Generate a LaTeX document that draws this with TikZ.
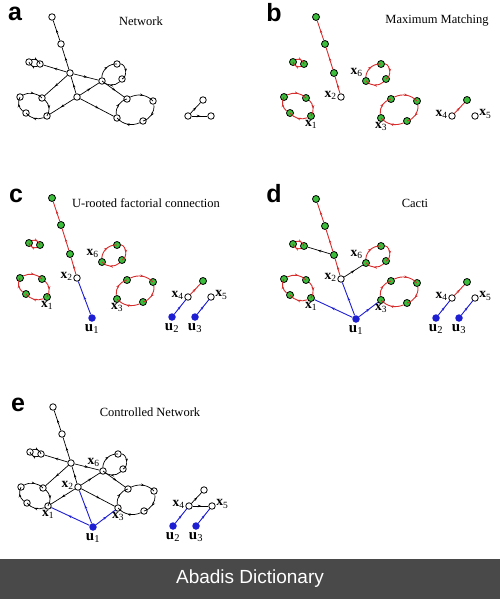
\documentclass[tikz,border=0pt]{standalone}
\usepackage{fontspec}
\setmainfont{Liberation Serif}
\newfontfamily\panelfont{Liberation Sans}
\usetikzlibrary{arrows.meta,decorations.markings,positioning}

\definecolor{nodegreen}{RGB}{60,190,60}
\definecolor{matchred}{RGB}{215,45,45}
\definecolor{ctrlblue}{RGB}{30,30,210}
\definecolor{barcol}{RGB}{74,73,74}

\newcommand{\xsub}[2]{\textbf{#1}\textsubscript{#2}}

% nodes shared by all panels
\newcommand{\placenodes}[1]{%
  \foreach \nm/\px/\py in {top/52/17, c1/61/44, hub/70/73, p1/29/62, p2/40/64,
      s1/117/64, s2/122/79, l1/20/97, l2/42/98, l3/26/113,
      r1/127/99, r2/153/101, r3/143/121, g/203/100,
      x1/47/116, x3/117/118, x6/102/81}
    \node[#1] (\nm) at (\px,\py) {};
  \foreach \nm/\px/\py in {x2/77/97, x4/188/116, x5/211/116}
    \node[onode] (\nm) at (\px,\py) {};
}
\newcommand{\placeunodes}{%
  \node[unode] (u1) at (92,137) {};
  \node[unode] (u2) at (172,136) {};
  \node[unode] (u3) at (195,136) {};
}
% chain and cycles of the matching
\newcommand{\matchedges}[1]{%
  \draw[#1] (x2) -- (hub);
  \draw[#1] (hub) -- (c1);
  \draw[#1] (c1) -- (top);
  \draw[#1] (p1) to[bend left=50] (p2);
  \draw[#1] (p2) to[bend left=50] (p1);
  \draw[#1] (x6) to[bend left=45] (s1);
  \draw[#1] (s1) to[bend left=75] (s2);
  \draw[#1] (s2) to[bend left=45] (x6);
  \draw[#1] (l1) to[bend left=35] (l2);
  \draw[#1] (l2) to[bend left=40] (x1);
  \draw[#1] (x1) to[bend left=35] (l3);
  \draw[#1] (l3) to[bend left=40] (l1);
  \draw[#1] (r1) to[bend left=35] (r2);
  \draw[#1] (r2) to[bend left=40] (r3);
  \draw[#1] (r3) to[bend left=35] (x3);
  \draw[#1] (x3) to[bend left=40] (r1);
  \draw[#1] (x4) -- (g);
}
\newcommand{\otheredges}{%
  \draw[bedge] (hub) -- (p2);
  \draw[bedge] (hub) -- (l2);
  \draw[bedge] (hub) -- (x6);
  \draw[bedge] (x2) -- (x6);
  \draw[bedge] (x6) -- (r1);
  \draw[bedge] (x2) -- (x1);
  \draw[bedge] (x2) -- (x3);
  \draw[bedge] (x4) -- (x5);
}
\newcommand{\xlabels}{%
  \node[xlbl, anchor=north] (x1l) at (x1.south) {\xsub{x}{1}};
  \node[xlbl, anchor=east, yshift=2pt] (x2l) at (x2.west) {\xsub{x}{2}};
  \node[xlbl, anchor=north] (x3l) at (x3.south) {\xsub{x}{3}};
  \node[xlbl, anchor=east, yshift=2pt] (x4l) at (x4.west) {\xsub{x}{4}};
  \node[xlbl, anchor=west, yshift=2pt] (x5l) at (x5.east) {\xsub{x}{5}};
  \node[xlbl, anchor=south east, yshift=1pt] (x6l) at (x6.north west) {\xsub{x}{6}};
}
\newcommand{\ulabels}{%
  \node[ulbl, anchor=north, yshift=-2pt] (u1l) at (u1.south) {\xsub{u}{1}};
  \node[ulbl, anchor=north, yshift=-2pt] (u2l) at (u2.south) {\xsub{u}{2}};
  \node[ulbl, anchor=north, yshift=-2pt] (u3l) at (u3.south) {\xsub{u}{3}};
}

\begin{document}
\begin{tikzpicture}[x=1pt, y=-1pt,
  midarrow/.style={postaction={decorate},
    decoration={markings, mark=at position .55 with {\arrow{Stealth[length=3.5pt,width=2.6pt]}}}},
  onode/.style={circle, draw, fill=white, inner sep=0pt, minimum size=6.5pt, line width=0.8pt},
  gnode/.style={onode, fill=nodegreen, minimum size=7pt},
  unode/.style={circle, fill=ctrlblue, inner sep=0pt, minimum size=7.5pt},
  bedge/.style={draw, line width=0.7pt, midarrow},
  redge/.style={draw=matchred, line width=0.9pt, midarrow},
  uedge/.style={draw=ctrlblue, line width=0.9pt, midarrow},
  xlbl/.style={inner sep=0.5pt, font=\fontsize{13.5}{14}\selectfont},
  ulbl/.style={inner sep=0.5pt, font=\fontsize{15}{15}\selectfont},
  title/.style={font=\fontsize{12.5}{13}\selectfont},
  letter/.style={font=\panelfont\bfseries\fontsize{25}{25}\selectfont}]
\useasboundingbox (0,0) rectangle (500,599);

% panel letters and titles
\node[letter] (la) at (15,14) {a};
\node[letter] (lb) at (274,13) {b};
\node[letter] (lc) at (16,196) {c};
\node[letter] (ld) at (274,194) {d};
\node[letter] (le) at (18,405) {e};
\node[title] (ta) at (141,21) {Network};
\node[title] (tb) at (437,21) {Maximum Matching};
\node[title] (tc) at (146,203) {U-rooted factorial connection};
\node[title] (td) at (415,203) {Cacti};
\node[title] (te) at (150,412) {Controlled Network};

% a
\begin{scope}[name prefix=a-]
  \placenodes{onode}
  \matchedges{bedge}
  \otheredges
\end{scope}

% b
\begin{scope}[shift={(264,0)}, name prefix=b-]
  \placenodes{gnode}
  \matchedges{redge}
  \xlabels
\end{scope}

% c
\begin{scope}[shift={(0,181)}, name prefix=c-]
  \placenodes{gnode}
  \placeunodes
  \matchedges{redge}
  \draw[uedge] (u1) -- (x2);
  \draw[uedge] (u2) -- (x4);
  \draw[uedge] (u3) -- (x5);
  \xlabels
  \ulabels
\end{scope}

% d
\begin{scope}[shift={(264,182)}, name prefix=d-]
  \placenodes{gnode}
  \placeunodes
  \matchedges{redge}
  \draw[bedge] (hub) -- (p2);
  \draw[bedge] (x2) -- (x6);
  \draw[uedge] (u1) -- (x1);
  \draw[uedge] (u1) -- (x2);
  \draw[uedge] (u1) -- (x3);
  \draw[uedge] (u2) -- (x4);
  \draw[uedge] (u3) -- (x5);
  \xlabels
  \ulabels
\end{scope}

% e
\begin{scope}[shift={(1,390)}, name prefix=e-]
  \placenodes{onode}
  \placeunodes
  \matchedges{bedge}
  \otheredges
  \draw[uedge] (u1) -- (x1);
  \draw[uedge] (u1) -- (x2);
  \draw[uedge] (u1) -- (x3);
  \draw[uedge] (u2) -- (x4);
  \draw[uedge] (u3) -- (x5);
  \xlabels
  \ulabels
\end{scope}

% footer
\fill[barcol] (0,559) rectangle (500,599);
\node[text=white, font=\panelfont\fontsize{19}{19}\selectfont] (foot) at (250,579) {Abadis Dictionary};
\end{tikzpicture}
\end{document}
